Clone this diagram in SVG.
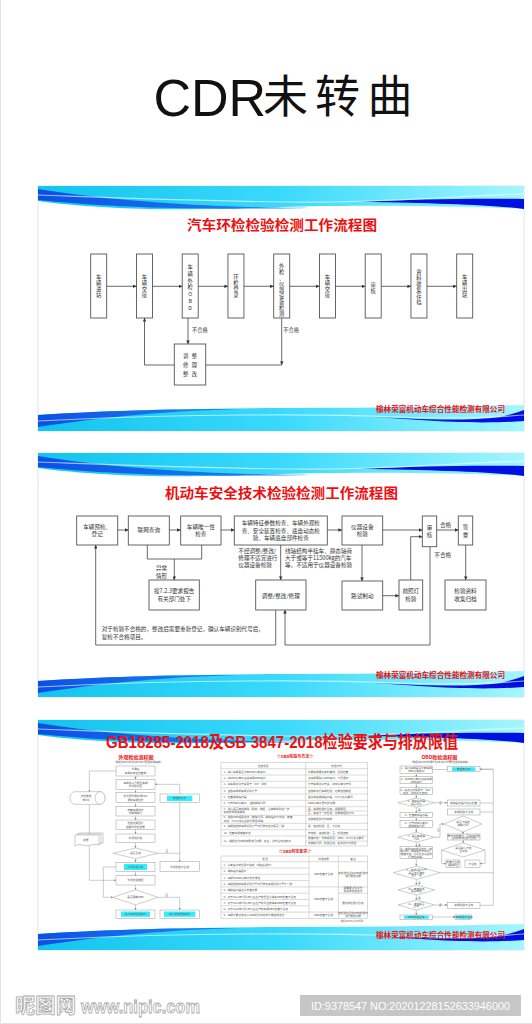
<svg xmlns="http://www.w3.org/2000/svg" xmlns:xlink="http://www.w3.org/1999/xlink" width="532" height="1024" viewBox="0 0 532 1024">
<defs>
<style>
.cn{font-family:"Noto Sans CJK SC","Noto Sans","DejaVu Sans",sans-serif}
.bx{fill:#fff;stroke:#555;stroke-width:0.9}
.ln{fill:none;stroke:#444;stroke-width:0.8}
.t5{font-size:5.3px;fill:#333}
.t56{font-size:5.6px;fill:#333}
.rt{fill:#ee1010;font-weight:bold}
.b3{fill:#fff;stroke:#9a9a9a;stroke-width:0.5}
.l3{fill:none;stroke:#9a9a9a;stroke-width:0.5}
.s3{font-size:2.7px;fill:#555}
.cy{fill:#30eeff}
.tb{fill:none;stroke:#b5b5b5;stroke-width:0.5}
.panel{fill:#fff;stroke:#dcdcdc;stroke-width:0.8}
</style>
<marker id="ah" viewBox="0 0 6 6" refX="6" refY="3" markerWidth="3.6" markerHeight="3.6" markerUnits="userSpaceOnUse" orient="auto"><path d="M0,0 L6,3 L0,6 Z" fill="#333"/></marker>
<marker id="ah3" viewBox="0 0 6 6" refX="6" refY="3" markerWidth="2.2" markerHeight="2.2" markerUnits="userSpaceOnUse" orient="auto"><path d="M0,0 L6,3 L0,6 Z" fill="#888"/></marker>
<linearGradient id="gcy" x1="0" y1="0" x2="1" y2="0">
<stop offset="0" stop-color="#12c4ee"/><stop offset="0.5" stop-color="#3ad9fb"/><stop offset="1" stop-color="#a4f6ff"/>
</linearGradient>
<linearGradient id="gdk" x1="0" y1="0" x2="1" y2="0">
<stop offset="0" stop-color="#0b4fe6"/><stop offset="1" stop-color="#1f8cf0"/>
</linearGradient>
<g id="topband">
<path d="M38,0 H524 V23 C460,20 400,19 330,20 C260,21 200,24 150,23 C100,22 60,18 38,15 Z" fill="url(#gcy)"/>
<path d="M38,3 C80,10 140,16 200,19 C240,21 280,22 310,22 C250,23 190,23 140,21 C90,19 60,16 38,14 Z" fill="url(#gdk)"/>
<path d="M360,16 C420,13 480,12 524,13 V23 C490,19 440,17 360,16 Z" fill="#0010e0"/>
<path d="M38,9 C150,13 250,17 330,16 C420,14 480,9 524,8" fill="none" stroke="#fff" stroke-width="1.2" opacity="0.6"/>
</g>
<g id="botband">
<path d="M38,-16 C120,-21 220,-23 300,-23 C380,-23 450,-24 524,-26 V0 H38 Z" fill="url(#gcy)"/>
<path d="M38,-16 C100,-20 160,-22 240,-22 C170,-20 110,-15 38,-4 Z" fill="url(#gdk)"/>
<path d="M360,-15 C420,-11 470,-10 500,-14 C510,-16 518,-19 524,-21 V-10 C500,-8 460,-8 420,-11 C400,-12 380,-14 360,-15 Z" fill="#0010e0"/>
<path d="M38,-10 C150,-16 300,-18 400,-14 C460,-12 500,-14 524,-16" fill="none" stroke="#fff" stroke-width="1.2" opacity="0.6"/>
</g>
</defs>

<rect x="0" y="0" width="532" height="1024" fill="#fff"/>
<path d="M0.5,0 V1023.5 H532" fill="none" stroke="#e2e2e2" stroke-width="1"/>

<g id="main-title">
<text x="153.5" y="116" font-family="'Liberation Sans',Arial,sans-serif" font-size="52" fill="#111">CDR</text>
<text class="cn" y="113" font-size="45" fill="#111" text-anchor="middle"><tspan x="285.5">未</tspan><tspan x="337.5">转</tspan><tspan x="390">曲</tspan></text>
</g>

<!-- ================= PANEL 1 ================= -->
<g id="panel1">
<rect class="panel" x="38" y="186" width="486" height="245"/>
<use xlink:href="#topband" href="#topband" y="186"/>
<use xlink:href="#botband" href="#botband" y="431"/>
<text class="cn rt" x="282" y="229.7" font-size="13.5" text-anchor="middle" textLength="190" lengthAdjust="spacingAndGlyphs">汽车环检检验检测工作流程图</text>
<text class="cn rt" x="505" y="411.6" font-size="7.5" text-anchor="end" textLength="129" lengthAdjust="spacingAndGlyphs">榆林荣富机动车综合性能检测有限公司</text>
</g>

<g id="p1-nodes" class="cn t5" text-anchor="middle">
<g id="p1n1"><rect class="bx" x="90.7" y="254" width="16" height="64"/><text x="98.7" y="279.4"><tspan x="98.7">车</tspan><tspan x="98.7" dy="6">辆</tspan><tspan x="98.7" dy="6">进</tspan><tspan x="98.7" dy="6">站</tspan></text></g>
<g id="p1n2"><rect class="bx" x="136.45" y="254" width="16" height="64"/><text x="144.45" y="279.4"><tspan x="144.45">车</tspan><tspan x="144.45" dy="6">辆</tspan><tspan x="144.45" dy="6">交</tspan><tspan x="144.45" dy="6">接</tspan></text></g>
<g id="p1n3"><rect class="bx" x="182.2" y="254" width="16" height="64"/><text x="190.2" y="269"><tspan x="190.2">车</tspan><tspan x="190.2" dy="6.8">辆</tspan><tspan x="190.2" dy="6.8">外</tspan><tspan x="190.2" dy="6.8">检</tspan><tspan x="190.2" dy="6.8">O</tspan><tspan x="190.2" dy="6.8">B</tspan><tspan x="190.2" dy="6.8">D</tspan></text></g>
<g id="p1n4"><rect class="bx" x="227.95" y="254" width="16" height="64"/><text x="235.95" y="279.4"><tspan x="235.95">环</tspan><tspan x="235.95" dy="6">检</tspan><tspan x="235.95" dy="6">登</tspan><tspan x="235.95" dy="6">录</tspan></text></g>
<g id="p1n5"><rect class="bx" x="273.7" y="254" width="16" height="64"/><text x="281.7" y="267.5"><tspan x="281.7">外</tspan><tspan x="281.7" dy="6.1">检</tspan><tspan x="281.7" dy="6.1">、</tspan><tspan x="281.7" dy="6.1">仪</tspan><tspan x="281.7" dy="6.1">器</tspan><tspan x="281.7" dy="6.1">设</tspan><tspan x="281.7" dy="6.1">备</tspan><tspan x="281.7" dy="6.1">检</tspan><tspan x="281.7" dy="6.1">测</tspan></text></g>
<g id="p1n6"><rect class="bx" x="319.45" y="254" width="16" height="64"/><text x="327.45" y="279.4"><tspan x="327.45">车</tspan><tspan x="327.45" dy="6">辆</tspan><tspan x="327.45" dy="6">交</tspan><tspan x="327.45" dy="6">接</tspan></text></g>
<g id="p1n7"><rect class="bx" x="365.2" y="254" width="16" height="64"/><text x="373.2" y="286.9"><tspan x="373.2">审</tspan><tspan x="373.2" dy="6">核</tspan></text></g>
<g id="p1n8"><rect class="bx" x="410.95" y="254" width="16" height="64"/><text x="418.95" y="273.6"><tspan x="418.95">资</tspan><tspan x="418.95" dy="6.1">料</tspan><tspan x="418.95" dy="6.1">收</tspan><tspan x="418.95" dy="6.1">集</tspan><tspan x="418.95" dy="6.1">存</tspan><tspan x="418.95" dy="6.1">档</tspan></text></g>
<g id="p1n9"><rect class="bx" x="456.7" y="254" width="16" height="64"/><text x="464.7" y="279.4"><tspan x="464.7">车</tspan><tspan x="464.7" dy="6">辆</tspan><tspan x="464.7" dy="6">出</tspan><tspan x="464.7" dy="6">站</tspan></text></g>
<g id="p1adj"><rect class="bx" x="174.3" y="344" width="31.4" height="41"/>
<text y="357.6"><tspan x="185.7">调</tspan><tspan x="194.3">整</tspan></text>
<text y="367"><tspan x="185.7">修</tspan><tspan x="194.3">理</tspan></text>
<text y="376.2"><tspan x="185.7">整</tspan><tspan x="194.3">改</tspan></text></g>
</g>

<g id="p1-connectors" class="ln" marker-end="url(#ah)">
<path d="M106.7,286.3 H136.45"/>
<path d="M152.45,286.3 H182.2"/>
<path d="M198.2,286.3 H227.95"/>
<path d="M243.95,286.3 H273.7"/>
<path d="M289.7,286.3 H319.45"/>
<path d="M335.45,286.3 H365.2"/>
<path d="M381.2,286.3 H410.95"/>
<path d="M426.95,286.3 H456.7"/>
<path d="M188,318 V344"/>
<path d="M174.3,365 H144.5 V318"/>
<path d="M281.7,318 V365"/>
<path d="M205.7,365 H281.7" marker-end="none"/>
</g>
<g id="p1-labels" class="cn" font-size="5.2" fill="#333">
<text x="192" y="332">不合格</text>
<text x="283.3" y="332">不合格</text>
</g>

<!-- ================= PANEL 2 ================= -->
<g id="panel2">
<rect class="panel" x="38" y="453" width="486" height="244"/>
<use xlink:href="#topband" href="#topband" y="453"/>
<use xlink:href="#botband" href="#botband" y="697"/>
<text class="cn rt" x="281.5" y="497.7" font-size="13.5" text-anchor="middle" textLength="233" lengthAdjust="spacingAndGlyphs">机动车安全技术检验检测工作流程图</text>
<text class="cn rt" x="505" y="677.6" font-size="7.5" text-anchor="end" textLength="129" lengthAdjust="spacingAndGlyphs">榆林荣富机动车综合性能检测有限公司</text>
</g>

<g id="p2-nodes" class="cn t56" text-anchor="middle">
<g id="p2a"><rect class="bx" x="76.7" y="516" width="41" height="29"/><text x="97.2" y="528.7">车辆预检、</text><text x="97.2" y="536">登记</text></g>
<g id="p2b"><rect class="bx" x="128.3" y="516" width="41" height="29"/><text x="148.8" y="532">联网查询</text></g>
<g id="p2c"><rect class="bx" x="180.7" y="516" width="40.3" height="29"/><text x="200.8" y="528.7">车辆唯一性</text><text x="200.8" y="536">检查</text></g>
<g id="p2d"><rect class="bx" x="234.3" y="516" width="93" height="29"/><text x="280.8" y="525.3">车辆特征参数检查、车辆外观检</text><text x="280.8" y="533">查、安全装置检查、底盘动态检</text><text x="280.8" y="540.3">验、车辆底盘部件检查</text></g>
<g id="p2e"><rect class="bx" x="342" y="516" width="40.7" height="29"/><text x="362.3" y="528.7">仪器设备</text><text x="362.3" y="536">检验</text></g>
<g id="p2f"><rect class="bx" x="422.3" y="516" width="14.4" height="30.7"/><text x="429.5" y="529.7">审</text><text x="429.5" y="537">核</text></g>
<g id="p2g"><rect class="bx" x="458.3" y="516" width="14.4" height="29"/><text x="465.5" y="528.7">签</text><text x="465.5" y="537">章</text></g>
<g id="p2h"><rect class="bx" x="149" y="580" width="50.3" height="30"/><text x="174.2" y="593">按7.2.3要求报告</text><text x="174.2" y="600.5">有关部门处下</text></g>
<g id="p2i"><rect class="bx" x="255.7" y="580" width="50.3" height="30"/><text x="280.8" y="597.6">调整/整改/修理</text></g>
<g id="p2j"><rect class="bx" x="342" y="581" width="40.7" height="29"/><text x="362.3" y="597.6">路试制动</text></g>
<g id="p2k"><rect class="bx" x="399" y="580" width="23.7" height="30"/><text x="410.8" y="593">前照灯</text><text x="410.8" y="600.5">检验</text></g>
<g id="p2l"><rect class="bx" x="445" y="580" width="41" height="30"/><text x="465.5" y="593">检验资料</text><text x="465.5" y="600.5">收集归档</text></g>
</g>

<g id="p2-connectors" class="ln" marker-end="url(#ah)">
<path d="M117.7,530 H128.3"/>
<path d="M169.3,530 H180.7"/>
<path d="M221,530 H234.3"/>
<path d="M327.3,530 H342"/>
<path d="M382.7,530 H422.3"/>
<path d="M436.7,530 H458.3"/>
<path d="M147.3,545 V559 H201.7 V545" marker-end="none"/>
<path d="M174.3,559 V580"/>
<path d="M280.7,545 V580"/>
<path d="M362,545 V581"/>
<path d="M382.7,595.7 H399"/>
<path d="M410.7,580 V536.7 H422.3"/>
<path d="M430,546.7 V645 H285 V610"/>
<path d="M465.7,545 V580"/>
<path d="M275.7,610 V645 H95.7 V545"/>
</g>
<g id="p2-labels" class="cn t56">
<text x="161.5" y="570.3" text-anchor="middle">异常</text>
<text x="161.5" y="577.7" text-anchor="middle">情形</text>
<text x="238.3" y="552.7">不经调整/整改/</text>
<text x="238.3" y="559.7">修理不适宜进行</text>
<text x="238.3" y="567">仪器设备检验</text>
<text x="285" y="552.7">线轴结构半挂车、静态轴荷</text>
<text x="285" y="559.7">大于或等于11500kg的汽车</text>
<text x="285" y="567">等，不适用于仪器设备检验</text>
<text x="440" y="527">合格</text>
<text x="434.3" y="557">不合格</text>
<text x="101.7" y="631">对于检验不合格的，整改后需要重新登记，确认车辆识别代号后，</text>
<text x="101.7" y="638.7">复检不合格项目。</text>
</g>

<!-- ================= PANEL 3 ================= -->
<g id="panel3">
<rect class="panel" x="38" y="720" width="486" height="230"/>
<use xlink:href="#topband" href="#topband" y="720"/>
<use xlink:href="#botband" href="#botband" y="950"/>
<text class="rt" x="282" y="748" font-family="'Liberation Sans','Noto Sans CJK SC',sans-serif" font-size="16.5" text-anchor="middle" textLength="352" lengthAdjust="spacingAndGlyphs">GB18285-2018及GB 3847-2018检验要求与排放限值</text>
<text class="cn rt" x="505" y="937.6" font-size="7.5" text-anchor="end" textLength="129" lengthAdjust="spacingAndGlyphs">榆林荣富机动车综合性能检测有限公司</text>
</g>

<!-- left flowchart -->
<g id="p3-left" class="cn s3" text-anchor="middle">
<text class="rt" x="136" y="758.5" font-size="5">外观检验流程图</text>
<text x="138" y="762.8" font-size="2.3" textLength="50" lengthAdjust="spacingAndGlyphs">（依据GB18285及GB 3847检验规程编制）</text>
<g id="l1"><rect class="b3" x="116" y="766" width="39" height="10"/><text x="135.5" y="770.3">登录后</text><text x="135.5" y="774">车辆基本信息查询</text></g>
<g id="l2"><rect class="b3" x="116" y="779.3" width="39" height="10"/><text x="135.5" y="783.6">车辆进入引导区等候</text><text x="135.5" y="787.3">外观检测区</text></g>
<g id="l3"><rect class="b3" x="116" y="792.7" width="39" height="10"/><text x="135.5" y="797">检测员登录并用PDA</text><text x="135.5" y="800.7">调取车辆信息</text></g>
<g id="l4"><rect class="b3" x="116" y="806.7" width="39" height="9.3"/><text x="135.5" y="810.7">核查车辆信息</text><text x="135.5" y="814.3">与实物确认</text></g>
<g id="l5"><rect class="b3" x="116" y="820" width="39" height="9.3"/><text x="135.5" y="824">检验证明图片</text><text x="135.5" y="827.6">拍摄与外检结果</text></g>
<g id="l6"><rect class="b3" x="116" y="834" width="39" height="8.7"/><text x="135.5" y="839.3">环保性判定</text></g>
<g id="l7"><path class="b3" d="M113,853.3 L135.5,848 L158,853.3 L135.5,858.6 Z"/><text x="135.5" y="854.3">是否合格</text></g>
<g id="l8"><rect class="b3" x="116" y="862.3" width="39" height="9.4"/><rect class="cy" x="124" y="864" width="23" height="6"/><text x="135.5" y="868">外观检验合格</text></g>
<g id="l9"><rect class="b3" x="116" y="875.7" width="39" height="9.3"/><text x="135.5" y="881.3">外观检验数据</text></g>
<g id="l10"><path class="b3" d="M113,897.3 L135.5,889.8 L158,897.3 L135.5,904.8 Z"/><text x="135.5" y="898.3">是否需做OBD</text></g>
<g id="l11"><rect class="b3" x="116" y="910" width="39" height="8.3"/><rect class="cy" x="121" y="911.5" width="29" height="5.3"/><text x="135.5" y="915.1">进入OBD检验程序</text></g>
<g id="lr1"><rect class="b3" x="160" y="794" width="39.3" height="8.7"/><rect class="cy" x="167" y="795.7" width="25.3" height="5.3"/><text x="179.7" y="799.3">数据库比对</text></g>
<g id="lr2"><rect class="b3" x="160" y="861.7" width="39.3" height="10"/><text x="179.7" y="867.6">外观检验不合格</text></g>
<g id="lr3"><rect class="b3" x="160" y="910" width="39.3" height="8.3"/><rect class="cy" x="164" y="911.5" width="31.3" height="5.3"/><text x="179.7" y="915.1">进入排放检验程序</text></g>
<g id="lcyl"><path class="b3" d="M75,791.7 H100 A5,6.3 0 0 1 100,804.3 H75 A5,6.3 0 0 1 75,791.7 Z"/><ellipse class="b3" cx="100" cy="798" rx="5" ry="6.3"/><text x="86" y="797.2">外检数据</text><text x="86" y="800.8">库VIO</text></g>
<g id="ldoc"><rect class="b3" x="79" y="833" width="24" height="10"/><rect class="b3" x="77" y="834" width="24" height="10"/><path class="b3" d="M75,835 H99 V845 C94,843 88,847 82,845 C79,844 77,845 75,846 Z"/><text x="86" y="841">结果</text></g>
</g>
<g id="p3-left-connectors" class="l3" marker-end="url(#ah3)">
<path d="M135.5,776 V779.3"/><path d="M135.5,789.3 V792.7"/><path d="M135.5,802.7 V806.7"/><path d="M135.5,816 V820"/><path d="M135.5,829.3 V834"/><path d="M135.5,842.7 V848"/><path d="M135.5,858.6 V862.3"/><path d="M135.5,871.7 V875.7"/><path d="M135.5,885 V889.8"/><path d="M135.5,904.8 V910"/>
<path d="M116,771 H89.3 V791.7"/><path d="M89.3,804.3 V834" marker-end="none"/><path d="M89.3,845.5 V880.3 H116"/>
<path d="M116,867 H103.3 V897.3 H113"/>
<path d="M158,853.3 H179.7" marker-end="none"/><path d="M179.7,802.7 V861.7"/><path d="M179.7,794 V784.3 H155"/>
<path d="M158,897.3 H179.7 V910"/>
</g>
<g class="cn s3"><text x="165.5" y="852">否</text><text x="165.5" y="895.8">否</text></g>

<!-- middle tables -->
<g id="p3-table1" class="cn s3">
<text class="rt" x="295" y="758.2" font-size="4" text-anchor="middle">☆OBD检验与方法☆</text>
<rect class="tb" x="221" y="762.7" width="146.7" height="83.3"/>
<path class="tb" d="M305.7,762.7 V846 M221,768.7 H367.7 M221,775 H367.7 M221,781.3 H367.7 M221,787.7 H367.7 M221,794 H367.7 M221,800.3 H367.7 M221,806.7 H367.7 M221,815.3 H367.7 M221,823.3 H367.7 M221,829.7 H367.7 M221,836 H367.7 M305.7,811 H367.7 M305.7,841 H367.7"/>
<text x="263.3" y="766.7" text-anchor="middle">检验项目</text><text x="336.7" y="766.7" text-anchor="middle">检验方法</text>
<text x="223.5" y="772.8">1、确认车辆是否带有OBD诊断接口</text><text x="308" y="772.8">对照车辆维修资料查找，目视检查</text>
<text x="223.5" y="779.1">2、将OBD诊断仪连接车辆OBD接口</text><text x="308" y="779.1">连接前需确认OBD接口，不得损坏</text>
<text x="223.5" y="785.4">3、将车辆点火开关置于“ON”状态</text><text x="308" y="785.4">打开车辆点火开关，OBD诊断仪开机</text>
<text x="223.5" y="791.8">4、读取车辆的车辆识别代号</text><text x="308" y="791.8">读取前进行车辆检验，记录读取数据</text>
<text x="223.5" y="798.1">5、检查故障指示器</text><text x="308" y="798.1">看仪表板故障指示器，MIL灯点亮情况</text>
<text x="223.5" y="804.4">6、打开OBD诊断仪，读取故障代码</text><text x="308" y="804.4">OBD诊断仪显示并记录</text>
<text x="223.5" y="810">7、确认是否存在故障（限定）数据，若有故障则进一步</text><text x="223.5" y="813.3">确定排放相关故障</text><text x="308" y="809.6">是，车辆检验不合格，说明原因</text><text x="308" y="814">否，继续下一步检验，记录数据并打印</text>
<text x="223.5" y="818.2">8、读取OBD相关信息（故障代码、故障指示灯状态、就绪</text><text x="223.5" y="821.5">状态、MIL灯点亮后的行驶里程等）</text><text x="308" y="820.2">读取数据并打印存档</text>
<text x="223.5" y="827.4">9、车辆读取的车辆识别代号与行驶证信息是否一致</text><text x="308" y="827.4">是，继续检验；否，不合格</text>
<text x="223.5" y="833.8">10、检查车辆就绪状态</text><text x="308" y="833.8">未完成，继续检验；否，检验结束</text>
<text x="223.5" y="842">11、根据检测出的结果进行记录，签名，并与合格证核对</text><text x="308" y="839.4">就绪状态：未完成项目、OBD、MIL灯点亮情况</text><text x="308" y="844.4">无故障代码，检验合格，签字并打印报告</text>
</g>
<g id="p3-table2" class="cn s3">
<text class="rt" x="295" y="852.6" font-size="4" text-anchor="middle">☆OBD判定要求☆</text>
<rect class="tb" x="221" y="856" width="146.7" height="62.4"/>
<path class="tb" d="M309,856 V918.4 M338.3,856 V918.4 M221,861.7 H367.7 M221,868 H309 M221,874.3 H309 M221,880.6 H309 M221,886.9 H367.7 M221,893.2 H309 M338.3,893.2 H367.7 M221,899.5 H309 M221,905.8 H309 M221,912.1 H367.7"/>
<text x="265" y="860" text-anchor="middle">项    目</text><text x="323.6" y="860" text-anchor="middle">判定结果</text><text x="353" y="860" text-anchor="middle">备注</text>
<text x="223.5" y="866">1、诊断接口的位置不确定（或接头损坏）</text>
<text x="223.5" y="872.3">2、故障指示器损坏</text>
<text x="223.5" y="878.6">3、车辆与OBD诊断仪无法通信</text>
<text x="223.5" y="884.9">4、车辆读取的车辆识别代号与行驶证车辆识别代号不一致</text>
<text x="223.5" y="891.2">5、故障指示器点亮未被记录</text>
<text x="223.5" y="897.5">6、对于2011年7月1日以后生产的轻型汽油车OBD检查不合格</text>
<text x="223.5" y="903.8">7、对于2013年7月1日以后生产的重型柴油车OBD检查不合格</text>
<text x="223.5" y="910.1">8、对于2018年1月1日以后生产的车辆OBD检查不合格</text>
<text x="223.5" y="916.4">9、车辆不能正常进入OBD检测状态或不能读取信息</text>
<g text-anchor="middle">
<text x="323.6" y="875.2">OBD检查不合格</text><text x="323.6" y="900.4">OBD检查不合格</text><text x="323.6" y="916.2">OBD检查不合格</text>
<text x="353" y="873.6">该检验应当在OBD检验时</text><text x="353" y="876.9">进行数据记录</text>
<text x="353" y="889.2">需要更新及修改</text><text x="353" y="892.3">相关的检验信息</text>
<text x="353" y="903.6">维修并检验不合格</text>
<text x="353" y="914">该检验应当在OBD检验时</text><text x="353" y="917.3">进行数据记录</text>
<text x="352" y="921.6" font-size="2">依据GB18285-2018附录F</text>
</g>
</g>

<!-- right flowchart -->
<g id="p3-right" class="cn s3" text-anchor="middle">
<text class="rt" x="439.3" y="759" font-size="5">OBD检验流程图</text>
<text x="440" y="762.8" font-size="2.3" textLength="60" lengthAdjust="spacingAndGlyphs">（依据GB18285附录F及GB 3847附录F检验规程编制）</text>
<g id="r1"><rect class="b3" x="400" y="766" width="32.7" height="7.3"/><text x="416.3" y="769.2">1、确认车辆是否带有车辆</text><text x="416.3" y="772.3">OBD诊断接口</text></g>
<g id="r2"><rect class="b3" x="400" y="776.7" width="32.7" height="6.6"/><text x="416.3" y="779.7">2、将OBD诊断仪连接车辆</text><text x="416.3" y="782.6">OBD接口</text></g>
<g id="r3"><rect class="b3" x="400" y="787.7" width="32.7" height="6.6"/><text x="416.3" y="790.7">3、将点火开关置于“ON”</text><text x="416.3" y="793.6">状态（发动机不启动）</text></g>
<g id="r4"><path class="b3" d="M398,802.7 L416.3,798 L434.6,802.7 L416.3,807.4 Z"/><text x="416.3" y="802.4">4、故障指示器</text><text x="416.3" y="805">是否点亮</text></g>
<g id="r5"><rect class="b3" x="400" y="812.7" width="32.7" height="4.6"/><text x="416.3" y="816">5、检查故障指示器</text></g>
<g id="r6"><rect class="b3" x="400" y="820.7" width="32.7" height="6.6"/><text x="416.3" y="823.7">6、打开OBD诊断仪</text><text x="416.3" y="826.6">读取故障代码</text></g>
<g id="r7"><path class="b3" d="M398,837.3 L416.3,832.3 L434.6,837.3 L416.3,842.3 Z"/><text x="416.3" y="837">7、是否有故障</text><text x="416.3" y="839.6">代码</text></g>
<g id="r8"><rect class="b3" x="400" y="846.7" width="32.7" height="11.6"/><text x="416.3" y="849.6">8、读取OBD相关信息（故</text><text x="416.3" y="852.3">障代码、故障指示灯状态、</text><text x="416.3" y="855">就绪状态、MIL灯点亮后的</text><text x="416.3" y="857.7">行驶里程等）</text></g>
<g id="r9"><path class="b3" d="M393.3,872.7 L416.5,866 L440,872.7 L416.5,879.4 Z"/><text x="416.5" y="871">9、车辆识别代号</text><text x="416.5" y="873.6">是否与行驶证</text><text x="416.5" y="876.2">信息一致</text></g>
<g id="r10"><path class="b3" d="M398,890 L416.3,885 L434.6,890 L416.3,895 Z"/><text x="416.3" y="889.6">10、就绪状态</text><text x="416.3" y="892.2">是否完成</text></g>
<g id="r11"><path class="b3" d="M398,905 L416.3,900 L434.6,905 L416.3,910 Z"/><text x="416.3" y="904.6">11、通信是否</text><text x="416.3" y="907.2">正常</text></g>
<g id="r12"><rect class="b3" x="400" y="915" width="32.7" height="4.3"/><rect class="cy" x="404" y="915.6" width="24.7" height="3.1"/><text x="416.3" y="918.1">OBD检验合格</text></g>
<g id="rr1"><rect class="b3" x="447.3" y="766.7" width="32.7" height="5"/><rect class="cy" x="452" y="767.3" width="23.3" height="3.8"/><text x="463.7" y="770.2">数据库比对</text></g>
<g id="rr2"><rect class="b3" x="447.3" y="800" width="32.7" height="6"/><text x="463.7" y="803.9">故障指示器不点亮检查</text></g>
<g id="rr3"><rect class="b3" x="447.3" y="809" width="32.7" height="6"/><text x="463.7" y="812.9">车辆检验不合格</text></g>
<g id="rr4"><path class="b3" d="M444.2,824 L463,816 L481.8,824 L463,832 Z"/><text x="463" y="823">是否为规定</text><text x="463" y="825.8">故障代码</text></g>
<g id="rr5"><rect class="b3" x="447.3" y="834" width="32.7" height="6"/><text x="463.7" y="836.6">属于正常情况，可继续检验</text><text x="463.7" y="839.3">否则OBD检验不合格</text></g>
<g id="rr6"><path class="b3" d="M441.7,850 L463.3,843 L485,850 L463.3,857 Z"/><text x="463.3" y="849.3">是否确认不完</text><text x="463.3" y="852">全状态</text></g>
<g id="rr7"><rect class="b3" x="446" y="860" width="14" height="7.3"/><text x="453" y="863.2">检查不合格</text><text x="453" y="866">说明原因</text></g>
<g id="rr8"><rect class="b3" x="465" y="860" width="15" height="7.3"/><text x="472.5" y="864.6">不合格</text></g>
<g id="rr9"><rect class="b3" x="447.3" y="902.3" width="32.7" height="6"/><text x="463.7" y="906.2">车辆检验不合格</text></g>
<g id="rr10"><rect class="b3" x="455" y="915" width="16.7" height="4.3"/><rect class="cy" x="456" y="915.6" width="14.7" height="3.1"/><text x="463.3" y="918.1">OBD检验不合格</text></g>
</g>
<g id="p3-right-connectors" class="l3" marker-end="url(#ah3)">
<path d="M416.3,773.3 V776.7"/><path d="M416.3,783.3 V787.7"/><path d="M416.3,794.3 V798"/><path d="M416.3,807.4 V812.7"/><path d="M416.3,817.3 V820.7"/><path d="M416.3,827.3 V832.3"/><path d="M416.3,842.3 V846.7"/><path d="M416.3,858.3 V866"/><path d="M416.3,879.4 V885"/><path d="M416.3,895 V900"/><path d="M416.3,910 V915"/>
<path d="M480,769.2 H493.3 V905.3 H480" marker-end="none"/>
<path d="M493.3,769.2 H480"/>
<path d="M432.7,769.5 H447.3" marker-end="none"/>
<path d="M434.6,802.7 H447.3"/>
<path d="M480,803 H493.3" marker-end="none"/><path d="M480,812 H493.3" marker-end="none"/>
<path d="M434.6,837.3 H440 V824 H444.2"/>
<path d="M463,832 V834"/><path d="M463.3,840 V843"/>
<path d="M441.7,850 V863.6 H446"/><path d="M485,850 V863.6 H480"/>
<path d="M440,872.7 H493.3" marker-end="none"/>
<path d="M434.6,905 H447.3"/>
<path d="M432.7,917 H455"/>
</g>
<g class="cn s3"><text x="439" y="804.4">否</text><text x="437" y="831">否</text><text x="439" y="906.3">是</text><text x="418" y="811">是</text><text x="418" y="845.5">是</text><text x="418" y="883.5">是</text><text x="418" y="898.8">是</text></g>

<!-- watermark -->
<g id="watermark">
<text class="cn" x="15" y="1013" font-size="20" font-weight="bold" fill="#fff" stroke="#a8a8a8" stroke-width="0.8" textLength="61" lengthAdjust="spacingAndGlyphs">昵图网</text>
<text x="81" y="1013" font-family="'Liberation Sans',Arial,sans-serif" font-size="18" font-weight="bold" fill="#fff" stroke="#a8a8a8" stroke-width="0.8" textLength="119" lengthAdjust="spacingAndGlyphs">www.nipic.com</text>
<rect x="300" y="995" width="221" height="21" fill="#c6c6c6"/>
<text x="311" y="1009.5" font-family="'Liberation Sans',Arial,sans-serif" font-size="11" fill="#fff" textLength="199" lengthAdjust="spacingAndGlyphs">ID:9378547 NO:20201228152633946000</text>
</g>
</svg>
